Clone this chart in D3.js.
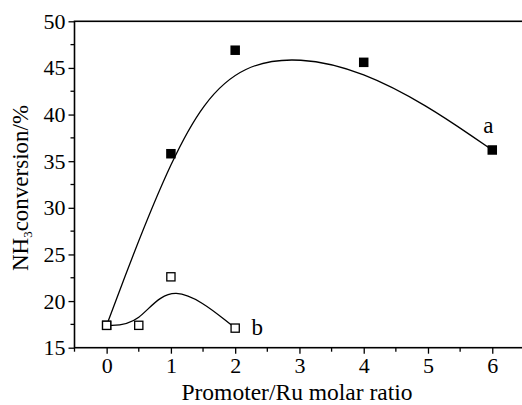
<!DOCTYPE html>
<html>
<head>
<meta charset="utf-8">
<script src="https://cdn.jsdelivr.net/npm/d3@7"></script>
<style>
  body { margin: 0; background: #fff; }
  svg { display: block; }
  text { font-family: "Liberation Serif", "Times New Roman", serif; fill: #000; }
</style>
</head>
<body>
<div class="chart-area"></div>
<script>
// promoter/Ru molar ratio and NH3 conversion (%)
const ratioA = [0, 1, 2, 4, 6];
const convA = [17.4, 35.8, 46.9, 45.6, 36.2];
const ratioB = [0, 0.5, 1, 2];
const convB = [17.4, 17.4, 22.6, 17.1];
const xTicks = [0, 1, 2, 3, 4, 5, 6];
const yTicks = [15, 20, 25, 30, 35, 40, 45, 50];

const width = 522, height = 405;
const svg = d3.select('.chart-area').append('svg')
    .attr('width', width).attr('height', height);

const x = d3.scaleLinear().domain([-0.5, 6.5]).range([74.5, 524.4]);
const y = d3.scaleLinear().domain([15, 50]).range([347.7, 21.3]);

const xMinor = d3.range(-0.5, 6.51, 0.5).filter(v => !xTicks.includes(v));
const yMinor = d3.range(15, 50.01, 2.5).filter(v => !yTicks.includes(v));

// frame
svg.append('rect')
    .attr('x', x(-0.5)).attr('y', y(50))
    .attr('width', x(6.5) - x(-0.5)).attr('height', y(15) - y(50))
    .attr('fill', 'none').attr('stroke', '#000').attr('stroke-width', 1.6);

// x axis
const xAxis = svg.append('g')
    .attr('transform', `translate(0,${y(15)})`)
    .call(d3.axisBottom(x).tickValues(xTicks).tickSize(6).tickPadding(4).tickFormat(d3.format('d')));
xAxis.select('.domain').remove();
xAxis.selectAll('.tick line').attr('stroke-width', 1.3);
xAxis.selectAll('.tick text').attr('font-size', 22).attr('font-family', '"Liberation Serif", serif');
xAxis.selectAll('.minor').data(xMinor).join('line')
    .attr('class', 'minor')
    .attr('x1', d => x(d)).attr('x2', d => x(d))
    .attr('y1', 0).attr('y2', 4)
    .attr('stroke', '#000').attr('stroke-width', 1.3);

// y axis
const yAxis = svg.append('g')
    .attr('transform', `translate(${x(-0.5)},0)`)
    .call(d3.axisLeft(y).tickValues(yTicks).tickSize(6).tickPadding(3));
yAxis.select('.domain').remove();
yAxis.selectAll('.tick line').attr('stroke-width', 1.3);
yAxis.selectAll('.tick text').attr('font-size', 22).attr('font-family', '"Liberation Serif", serif');
yAxis.selectAll('.minor').data(yMinor).join('line')
    .attr('class', 'minor')
    .attr('y1', d => y(d)).attr('y2', d => y(d))
    .attr('x1', 0).attr('x2', -4)
    .attr('stroke', '#000').attr('stroke-width', 1.3);

// axis titles
svg.append('text')
    .attr('x', 297).attr('y', 400)
    .attr('text-anchor', 'middle').attr('font-size', 23.5)
    .text('Promoter/Ru molar ratio');

const yl = svg.append('text')
    .attr('transform', 'translate(28,188) rotate(-90)')
    .attr('text-anchor', 'middle').attr('font-size', 23);
yl.append('tspan').text('NH');
yl.append('tspan').attr('font-size', 13).attr('dy', 4).text('3');
yl.append('tspan').attr('dy', -4).text('conversion/%');

// fitted curves
const line = d3.line().curve(d3.curveBasis);
const ptsA = ratioA.map((r, i) => [x(r), y(convA[i])]);
const ptsB = ratioB.map((r, i) => [x(r), y(convB[i])]);

svg.append('path').attr('d', line(ptsA))
    .attr('fill', 'none').attr('stroke', '#000').attr('stroke-width', 1.3);
svg.append('path').attr('d', line(ptsB))
    .attr('fill', 'none').attr('stroke', '#000').attr('stroke-width', 1.3);

// markers
const s = 9.5;
svg.append('g').selectAll('rect').data(ptsA).join('rect')
    .attr('x', d => d[0] - s / 2).attr('y', d => d[1] - s / 2)
    .attr('width', s).attr('height', s).attr('fill', '#000');

svg.append('g').selectAll('rect').data(ptsB).join('rect')
    .attr('x', d => d[0] - (s - 1.3) / 2).attr('y', d => d[1] - (s - 1.3) / 2)
    .attr('width', s - 1.3).attr('height', s - 1.3)
    .attr('fill', '#fff').attr('stroke', '#000').attr('stroke-width', 1.3);

// series labels
svg.append('text').attr('x', x(6) - 4).attr('y', y(36.2) - 17)
    .attr('text-anchor', 'middle').attr('font-size', 23).text('a');
svg.append('text').attr('x', x(2) + 22).attr('y', y(17.1) + 7)
    .attr('text-anchor', 'middle').attr('font-size', 23).text('b');
</script>
</body>
</html>
